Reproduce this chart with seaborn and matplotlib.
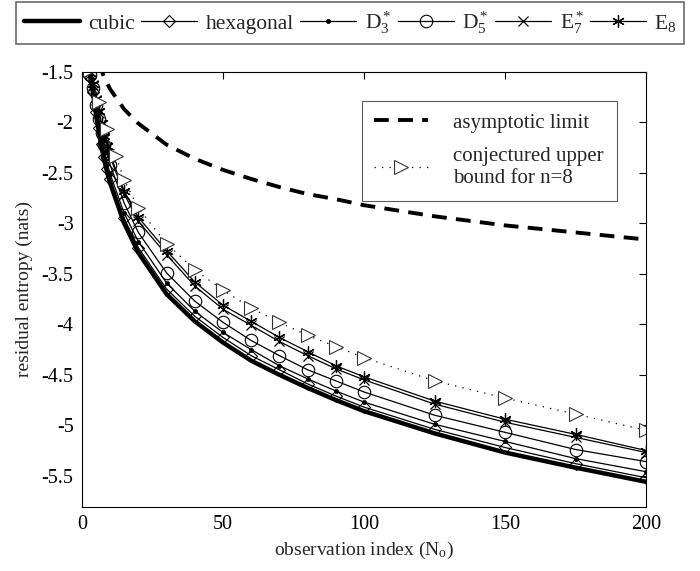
import numpy as np
import pandas as pd
import matplotlib
matplotlib.use("Agg")
import matplotlib.pyplot as plt
import seaborn as sns

# ---------------- data ----------------
N_cubic = [2, 3, 4, 5, 6, 7, 8, 9, 10, 15, 20, 30, 40, 50, 60, 70, 80, 90, 100, 125, 150, 175, 200]
cubic = [-1.10, -1.56, -1.72, -1.92, -2.09, -2.25, -2.38, -2.50, -2.60, -3.00, -3.29, -3.70, -3.97,
         -4.18, -4.36, -4.50, -4.63, -4.75, -4.86, -5.08, -5.27, -5.42, -5.56]

N_lat = [3, 4, 5, 6, 7, 8, 9, 10, 15, 20, 30, 40, 50, 60, 70, 80, 90, 100, 125, 150, 175, 200]
hexagonal = [-1.55, -1.70, -1.90, -2.06, -2.21, -2.34, -2.46, -2.56, -2.95, -3.24, -3.65, -3.92,
             -4.13, -4.31, -4.45, -4.59, -4.71, -4.82, -5.04, -5.22, -5.38, -5.52]
D3 = [-1.54, -1.68, -1.87, -2.03, -2.17, -2.30, -2.41, -2.51, -2.90, -3.18, -3.59, -3.87,
      -4.08, -4.25, -4.41, -4.54, -4.66, -4.77, -4.99, -5.16, -5.33, -5.46]
D5 = [-1.53, -1.66, -1.83, -1.97, -2.10, -2.22, -2.33, -2.42, -2.80, -3.09, -3.49, -3.77,
      -3.98, -4.16, -4.31, -4.45, -4.56, -4.67, -4.90, -5.07, -5.24, -5.36]
E7 = [-1.52, -1.63, -1.78, -1.91, -2.03, -2.15, -2.25, -2.34, -2.71, -2.98, -3.31, -3.62,
      -3.85, -4.01, -4.17, -4.31, -4.44, -4.55, -4.79, -4.97, -5.12, -5.27]
E8 = [-1.51, -1.62, -1.77, -1.89, -2.01, -2.13, -2.23, -2.32, -2.68, -2.94, -3.27, -3.58,
      -3.81, -3.97, -4.13, -4.27, -4.41, -4.52, -4.76, -4.94, -5.09, -5.25]

N_bound = [3, 6, 9, 12, 15, 20, 30, 40, 50, 60, 70, 80, 90, 100, 125, 150, 175, 200]
bound8 = [-1.48, -1.80, -2.07, -2.33, -2.57, -2.85, -3.20, -3.46, -3.66, -3.84, -3.98, -4.11,
          -4.22, -4.33, -4.56, -4.73, -4.89, -5.05]

N_asym = [6, 7, 8, 10, 15, 20, 30, 40, 50, 60, 70, 80, 90, 100, 125, 150, 175, 200]
asym = [-1.40, -1.49, -1.56, -1.67, -1.87, -2.01, -2.22, -2.36, -2.47, -2.56, -2.64, -2.71,
        -2.76, -2.82, -2.93, -3.02, -3.09, -3.16]

labels_top = ["cubic", "hexagonal", r"$\mathregular{D_3^*}$", r"$\mathregular{D_5^*}$",
              r"$\mathregular{E_7^*}$", r"$\mathregular{E_8}$"]
x_ticks = [0, 50, 100, 150, 200]
y_ticks = [-1.5, -2, -2.5, -3, -3.5, -4, -4.5, -5, -5.5]
y_ticklabels = ["-1.5", "-2", "-2.5", "-3", "-3.5", "-4", "-4.5", "-5", "-5.5"]

# ---------------- style ----------------
sns.set_style("white")
plt.rcParams["font.family"] = ["Liberation Serif", "DejaVu Serif"]
plt.rcParams["mathtext.fontset"] = "custom"
plt.rcParams["mathtext.rm"] = "Liberation Serif"
plt.rcParams["mathtext.it"] = "Liberation Serif:italic"
plt.rcParams["axes.unicode_minus"] = False

fig = plt.figure(figsize=(7.0, 5.71), dpi=100)
ax = fig.add_axes([0.117, 0.112, 0.806, 0.762])

star6 = (6, 2, 0)
series = [
    (N_cubic, cubic, dict(linewidth=3.2, marker=None)),
    (N_lat, hexagonal, dict(linewidth=0.9, marker="D", markersize=6.5,
                            markerfacecolor="none", markeredgecolor="k", markeredgewidth=0.8)),
    (N_lat, D3, dict(linewidth=0.9, marker="o", markersize=3.0,
                     markerfacecolor="k", markeredgecolor="k", markeredgewidth=0.5)),
    (N_lat, D5, dict(linewidth=0.9, marker="o", markersize=9,
                     markerfacecolor="none", markeredgecolor="k", markeredgewidth=0.8)),
    (N_lat, E7, dict(linewidth=0.9, marker="x", markersize=7,
                     markeredgecolor="k", markeredgewidth=0.9)),
    (N_lat, E8, dict(linewidth=0.9, marker=star6, markersize=9,
                     markeredgecolor="k", markeredgewidth=0.9)),
]
handles = []
for (xs, ys, kw), lab in zip(series, labels_top):
    df = pd.DataFrame({"N": xs, "v": ys})
    sns.lineplot(data=df, x="N", y="v", ax=ax, color="k", sort=True, errorbar=None,
                 legend=False, **kw)
    handles.append(ax.get_lines()[-1])

df_a = pd.DataFrame({"N": N_asym, "v": asym})
sns.lineplot(data=df_a, x="N", y="v", ax=ax, color="k", linewidth=2.8,
             linestyle=(0, (3.8, 2.4)), errorbar=None, legend=False)
h_asym = ax.get_lines()[-1]
df_b = pd.DataFrame({"N": N_bound, "v": bound8})
sns.lineplot(data=df_b, x="N", y="v", ax=ax, color="k", linewidth=0.9, linestyle=(0, (1, 5)),
             marker=">", markersize=10, markerfacecolor="white", markeredgecolor="#333333",
             markeredgewidth=0.8, errorbar=None, legend=False)
h_bound = ax.get_lines()[-1]

ax.set_xlim(0, 200)
ax.set_ylim(-5.81, -1.5)
ax.set_xticks(x_ticks)
ax.set_xticklabels([str(t) for t in x_ticks])
ax.set_yticks(y_ticks)
ax.set_yticklabels(y_ticklabels)
ax.tick_params(direction="in", length=5, width=0.8, top=True, right=True,
               labelsize=14.5, colors="k", pad=6)
for s in ax.spines.values():
    s.set_visible(True)
    s.set_color("k")
    s.set_linewidth(0.8)
ax.set_xlabel(r"observation index ($\mathregular{N_o}$)", fontsize=14, labelpad=4)
ax.set_ylabel("residual entropy (nats)", fontsize=14, labelpad=6)

# inset legend
leg2 = ax.legend([h_asym, h_bound], ["asymptotic limit", "conjectured upper\nbound for n=8"],
                 loc="upper right", bbox_to_anchor=(0.966, 0.958), frameon=True, fancybox=False,
                 edgecolor="#333333", fontsize=15, handlelength=2.6, handletextpad=1.2,
                 borderpad=0.6, labelspacing=0.7)
leg2.get_frame().set_linewidth(0.8)

# top legend
leg = fig.legend(handles, labels_top, loc="center", ncol=6,
                 bbox_to_anchor=(0.008, 0.925, 0.985, 0.07), mode="expand",
                 frameon=True, fancybox=False, edgecolor="#444444", fontsize=15.5,
                 handlelength=2.6, handletextpad=0.4, columnspacing=0.6, borderpad=0.35)
leg.get_frame().set_linewidth(1.2)

fig.savefig("out.png", dpi=100)
